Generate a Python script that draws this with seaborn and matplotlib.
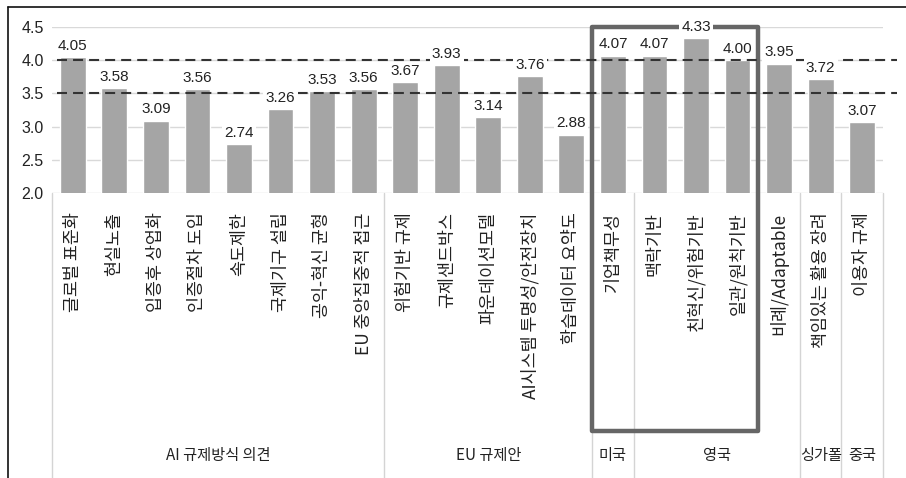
import matplotlib
matplotlib.use("Agg")
import matplotlib.pyplot as plt
import matplotlib.transforms as mtransforms
from matplotlib.lines import Line2D
from matplotlib.patches import Rectangle
import numpy as np
import pandas as pd
import seaborn as sns

# --- data -------------------------------------------------------------
categories = [
    "글로벌 표준화", "현실노출", "입증후 상업화", "인증절차 도입", "속도제한",
    "국제기구 설립", "공익-혁신 균형", "EU 중앙집중적 접근",
    "위험기반 규제", "규제샌드박스", "파운데이션모델",
    "AI시스템 투명성/안전장치", "학습데이터 요약도",
    "기업책무성",
    "맥락기반", "친혁신/위험기반", "일관/원칙기반", "비례/Adaptable",
    "책임있는 활용 장려",
    "이용자 규제",
]
scores = [4.05, 3.58, 3.09, 3.56, 2.74, 3.26, 3.53, 3.56,
          3.67, 3.93, 3.14, 3.76, 2.88,
          4.07,
          4.07, 4.33, 4.00, 3.95,
          3.72,
          3.07]
groups = ["AI 규제방식 의견", "EU 규제안", "미국", "영국", "싱가폴", "중국"]
group_sizes = [8, 5, 1, 4, 1, 1]
reference_levels = [4.0, 3.5]
highlight = (13, 16)          # first and last bar inside the framed block
y_ticks = [2.0, 2.5, 3.0, 3.5, 4.0, 4.5]

df = pd.DataFrame({"항목": categories, "점수": scores})

# --- style --------------------------------------------------------------
sns.set_style("white")
KR = ["Noto Sans CJK KR", "DejaVu Sans"]
NUM = ["Liberation Sans Narrow", "Liberation Sans", "DejaVu Sans"]
plt.rcParams["font.family"] = KR

W, H = 906, 478
fig = plt.figure(figsize=(W / 100, H / 100), dpi=100)
ax_l, ax_r, ax_t, ax_b = 52, 883, 27, 193
ax = fig.add_axes([ax_l / W, 1 - ax_b / H, (ax_r - ax_l) / W, (ax_b - ax_t) / H])

sns.barplot(data=df, x="항목", y="점수", color="#a5a5a5", saturation=1,
            width=0.62, ax=ax, zorder=2)

ax.set_ylim(2.0, 4.5)
ax.set_xlim(-0.5, len(categories) - 0.5)
ax.set_yticks(y_ticks)
ax.set_yticklabels([f"{v:.1f}" for v in y_ticks], family=NUM, fontsize=11.5,
                   color="#222222")
ax.set_xticks(range(len(categories)))
ax.set_xticklabels(categories, rotation=90, family=KR, fontsize=12.5,
                   color="#222222", va="top", ha="center")
ax.tick_params(axis="x", length=0, pad=14)
ax.tick_params(axis="y", length=0, pad=6)
ax.set_xlabel("")
ax.set_ylabel("")
for s in ax.spines.values():
    s.set_visible(False)

# light horizontal gridlines
for v in y_ticks:
    ax.axhline(v, color="#d9d9d9", lw=1, zorder=0)

# dashed reference levels
for lv in reference_levels:
    ax.axhline(lv, xmin=0.006, xmax=1.017, color="#333333", lw=1.5,
               linestyle=(0, (4.8, 2.9)), zorder=5, clip_on=False)

# value labels
for i, v in enumerate(scores):
    ax.annotate(f"{v:.2f}", (i, v), xytext=(0, 3), textcoords="offset points",
                ha="center", va="bottom", family=NUM, fontsize=11,
                color="#222222", zorder=6,
                bbox=dict(boxstyle="square,pad=0.15", fc="white", ec="none"))

# group separators and group names below the tick labels
blend = mtransforms.blended_transform_factory(ax.transData, ax.transAxes)
px = ax_b - ax_t
y_fig_bottom = (ax_b - H) / px
edges = np.concatenate([[0], np.cumsum(group_sizes)]) - 0.5
for e in edges:
    ax.add_line(Line2D([e, e], [0, y_fig_bottom], transform=blend,
                       color="#d4d4d4", lw=1, clip_on=False, zorder=1))
y_group = (ax_b - 456) / px
for name, a, b in zip(groups, edges[:-1], edges[1:]):
    ax.text((a + b) / 2, y_group, name, transform=blend, ha="center",
            va="center", fontsize=11, color="#222222", family=KR)

# frame around the highlighted block
y_box_bottom = (ax_b - 431) / px
box = Rectangle((highlight[0] - 0.5, y_box_bottom),
                highlight[1] - highlight[0] + 1, 1 - y_box_bottom,
                transform=blend, fill=False, ec="#666666", lw=3.2,
                joinstyle="round", clip_on=False, zorder=4)
ax.add_patch(box)

# outer page border (top and left)
fig.add_artist(Line2D([8 / W, 8 / W], [0, 1 - 7 / H], transform=fig.transFigure,
                      color="#111111", lw=1.2))
fig.add_artist(Line2D([8 / W, 1], [1 - 7 / H, 1 - 7 / H],
                      transform=fig.transFigure, color="#111111", lw=1.2))

fig.savefig("out.png", dpi=100)
